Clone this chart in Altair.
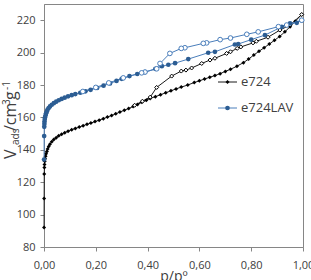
import altair as alt
import pandas as pd

# e724: adsorption branch (p/p0, V_ads in cm3/g)
e724_ads_p = [0.0003, 0.0006, 0.001, 0.0015, 0.002, 0.003, 0.004, 0.006, 0.008, 0.011,
              0.014, 0.018, 0.023, 0.03, 0.038, 0.047, 0.057, 0.068, 0.08, 0.093,
              0.107, 0.121, 0.136, 0.151, 0.166, 0.181, 0.197, 0.213, 0.229, 0.245,
              0.261, 0.277, 0.293, 0.31, 0.327, 0.344, 0.361, 0.378, 0.395, 0.41,
              0.43, 0.45, 0.47, 0.49, 0.51, 0.53, 0.555, 0.58, 0.60, 0.62,
              0.64, 0.66, 0.68, 0.70, 0.72, 0.745, 0.77, 0.79, 0.81, 0.83,
              0.85, 0.87, 0.89, 0.91, 0.93, 0.95, 0.97, 0.995]
e724_ads_v = [92, 110, 125, 129, 131, 133, 134.5, 136, 137.5, 139,
              140.5, 142, 143.5, 145, 146.3, 147.5, 148.6, 149.6, 150.6, 151.5,
              152.4, 153.2, 154, 154.9, 155.7, 156.5, 157.4, 158.3, 159.2, 160.2,
              161.2, 162.2, 163.3, 164.4, 165.5, 166.7, 168, 169.3, 170.6, 171.7,
              172.8, 174, 175.2, 176.4, 177.6, 178.7, 180, 181.5, 182.6, 183.7,
              184.8, 185.8, 187, 188.4, 189.7, 191.6, 193.8, 196, 198.5, 200.8,
              203, 205.3, 207.6, 210, 212.8, 216, 219.3, 223.5]

# e724: desorption branch
e724_des_p = [0.995, 0.95, 0.911, 0.865, 0.82, 0.807, 0.76, 0.746, 0.72, 0.705,
              0.66, 0.641, 0.609, 0.57, 0.548, 0.53, 0.493, 0.435, 0.41, 0.38, 0.35]
e724_des_v = [223.5, 217, 213.9, 209.5, 207, 206, 203.5, 202.6, 200.5, 199.5,
              196.5, 195.4, 193.3, 190.5, 189.2, 188.6, 185.5, 178.5, 172.5, 170, 167.5]

# e724LAV: adsorption branch
lav_ads_p = [0.0003, 0.0006, 0.001, 0.0015, 0.002, 0.003, 0.004, 0.006, 0.008, 0.011,
             0.014, 0.018, 0.023, 0.03, 0.038, 0.047, 0.057, 0.068, 0.08, 0.093,
             0.107, 0.121, 0.14, 0.16, 0.18, 0.205, 0.23, 0.255, 0.28, 0.30,
             0.33, 0.36, 0.39, 0.43, 0.455, 0.48, 0.506, 0.557, 0.634, 0.66,
             0.737, 0.75, 0.80, 0.853, 0.918, 0.95, 0.976, 0.995]
lav_ads_v = [134, 148.5, 154.2, 156, 157.5, 159, 160, 161.3, 162.5, 163.7,
             164.8, 165.8, 166.8, 167.8, 168.8, 169.7, 170.6, 171.4, 172.2, 173,
             173.7, 174.4, 175.2, 176.1, 177, 178.2, 179.6, 181, 182.5, 183.8,
             185.5, 186.8, 188, 190, 191.6, 192.5, 193.5, 196, 199.9, 200.5,
             205, 205.3, 208, 210.8, 215.9, 218, 218.4, 220]

# e724LAV: desorption branch
lav_des_p = [0.995, 0.937, 0.905, 0.827, 0.783, 0.72, 0.68, 0.628, 0.615, 0.544,
             0.53, 0.486, 0.448, 0.435, 0.39, 0.377, 0.306, 0.25, 0.2, 0.15]
lav_des_v = [220, 217, 216, 212.8, 211.3, 209, 208, 206, 205.7, 203,
             202.6, 199.5, 193.3, 190, 188, 187.5, 184.4, 181.3, 178.5, 176]

series_names = ["e724", "e724LAV"]
line_colors = ["#1a1a1a", "#4a7ebb"]
marker_colors = ["#000000", "#2c5d93"]
open_strokes = ["#000000", "#4a7ebb"]
marker_shapes = ["diamond", "circle"]
marker_sizes = [16, 22]
legend_y = [78, 104]

x_ticks = [0, 0.2, 0.4, 0.6, 0.8, 1.0]
y_ticks = [80, 100, 120, 140, 160, 180, 200, 220]


def branch(name, kind, ps, vs):
    return pd.DataFrame({"p": ps, "v": vs, "series": name, "branch": kind,
                         "curve": f"{name}-{kind}", "idx": range(len(ps))})


df = pd.concat([
    branch("e724", "ads", e724_ads_p, e724_ads_v),
    branch("e724", "des", e724_des_p, e724_des_v),
    branch("e724LAV", "ads", lav_ads_p, lav_ads_v),
    branch("e724LAV", "des", lav_des_p, lav_des_v),
], ignore_index=True)

x = alt.X("p:Q", scale=alt.Scale(domain=[0, 1], nice=False),
          axis=alt.Axis(values=x_ticks, title="p/pº", grid=False, labelFlush=False,
                        labelExpr="replace(format(datum.value, '.2f'), '.', ',')",
                        tickSize=4, labelPadding=8, titleFontSize=14,
                        titleFontWeight="normal", titleY=22, titleBaseline="top"))
y = alt.Y("v:Q", scale=alt.Scale(domain=[80, 230], nice=False),
          axis=alt.Axis(values=y_ticks, title=None, grid=False, tickSize=4,
                        labelPadding=5, labelFlush=False))

layers = []
for i, name in enumerate(series_names):
    base = alt.Chart(df).transform_filter(alt.datum.series == name)
    layers.append(base.mark_line(color=line_colors[i], strokeWidth=1).encode(
        x=x, y=y, detail="curve:N", order="idx:Q"))
    layers.append(base.transform_filter(alt.datum.branch == "ads").mark_point(
        shape=marker_shapes[i], filled=True, color=marker_colors[i],
        size=marker_sizes[i], opacity=1).encode(x=x, y=y))
    layers.append(base.transform_filter(alt.datum.branch == "des").mark_point(
        shape=marker_shapes[i], filled=False, fill="white", fillOpacity=1,
        stroke=open_strokes[i], strokeWidth=1,
        size=marker_sizes[i], opacity=1).encode(x=x, y=y))

# legend drawn inside the plot area
for i, name in enumerate(series_names):
    lb = alt.Chart(pd.DataFrame({"series": [name]}))
    ly = float(legend_y[i])
    layers.append(lb.mark_rule(color=line_colors[i], strokeWidth=1).encode(
        x=alt.value(174), x2=alt.value(193), y=alt.value(ly)))
    layers.append(lb.mark_point(shape=marker_shapes[i], filled=True,
                                color=marker_colors[i], size=marker_sizes[i],
                                opacity=1).encode(
        x=alt.value(183.5), y=alt.value(ly)))
    layers.append(lb.mark_text(align="left", baseline="middle", fontSize=13,
                               font="Open Sans", color="#404040").encode(
        x=alt.value(197), y=alt.value(ly), text="series:N"))

# y-axis title: V_ads/cm^3 g^-1, built from rotated pieces
title_parts = pd.DataFrame({
    "t": ["V", "ads", "/cm", "3", "g", "-1"],
    "size": [16, 10, 16, 10, 16, 10],
    "tx": [-28, -25, -28, -34, -28, -34],
    "ty": [155, 141, 127, 101, 96, 86],
})
for _, r in title_parts.iterrows():
    layers.append(alt.Chart(pd.DataFrame({"t": [r.t]})).mark_text(
        angle=270, align="left", baseline="alphabetic", font="Open Sans",
        fontSize=int(r["size"]), color="#404040").encode(
        x=alt.value(float(r.tx)), y=alt.value(float(r.ty)), text="t:N"))

chart = alt.layer(*layers).properties(
    width=259, height=243,
    padding={"left": 44, "top": 4, "right": 8, "bottom": 33},
    autosize="none",
).configure_view(stroke="#868686", strokeWidth=1).configure_axis(
    domainColor="#868686", tickColor="#868686", labelColor="#404040",
    titleColor="#404040", labelFont="Open Sans", titleFont="Open Sans",
    labelFontSize=11,
)

chart.save("out.html", embed_options={"renderer": "svg", "actions": False})
